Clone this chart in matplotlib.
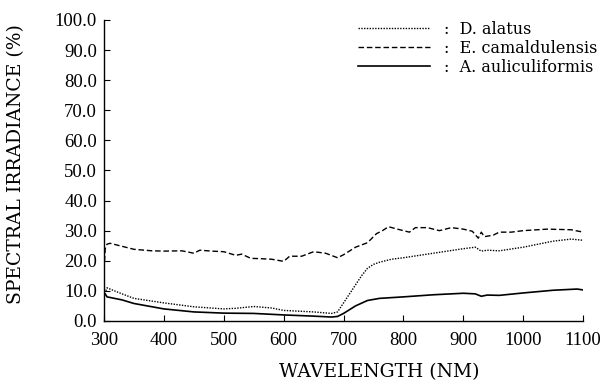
import matplotlib
matplotlib.use("Agg")
import matplotlib.pyplot as plt
from matplotlib.ticker import FormatStrFormatter

plt.rcParams['font.family'] = ['DejaVu Serif']

wl_e = [300, 302, 305, 310, 330, 350, 380, 400, 430, 450, 460, 480, 500, 520, 530, 545, 560, 580, 600, 610, 630,
        650, 670, 690, 700, 720, 740, 755, 765, 775, 790, 800, 810, 820, 840, 860, 880, 900, 915, 925, 930,
        935, 950, 960, 980, 1000, 1040, 1080, 1100]
e_cam = [17.0, 24.0, 25.5, 25.8, 24.8, 23.8, 23.3, 23.2, 23.3, 22.5, 23.5, 23.2, 23.0, 21.8, 22.2, 20.8, 20.7, 20.5, 19.8, 21.5, 21.5,
         23.0, 22.5, 21.0, 22.0, 24.5, 26.0, 29.0, 30.0, 31.3, 30.5, 30.0, 29.5, 31.0, 31.0, 30.0, 31.0, 30.5, 29.8, 27.5, 29.5,
         28.0, 28.5, 29.5, 29.5, 30.0, 30.5, 30.3, 29.5]

wl_d = [303, 305, 330, 350, 400, 450, 500, 520, 550, 580, 600, 650, 680, 690, 700, 710, 720, 730, 740, 750, 760, 780,
        800, 850, 900, 920, 930, 940, 960, 1000, 1050, 1080, 1100]
d_ala = [10.0, 11.0, 9.0, 7.5, 6.0, 4.7, 4.0, 4.2, 4.8, 4.3, 3.5, 3.0, 2.5, 3.0, 6.0, 9.0, 12.0, 15.0, 17.5, 18.8, 19.5, 20.5,
         21.0, 22.5, 24.0, 24.5, 23.2, 23.5, 23.3, 24.5, 26.5, 27.2, 26.8]

wl_a = [302, 305, 330, 350, 400, 450, 500, 550, 600, 650, 680, 690, 700, 720, 740, 760, 800, 850, 900, 920, 930,
        940, 960, 1000, 1050, 1090, 1100]
a_aul = [9.0, 8.0, 7.0, 5.8, 4.0, 3.0, 2.6, 2.5, 2.0, 1.6, 1.3, 1.5, 2.5, 5.0, 6.8, 7.5, 8.0, 8.7, 9.2, 9.0, 8.2,
         8.6, 8.5, 9.3, 10.2, 10.6, 10.3]

labels = [':  D. alatus', ':  E. camaldulensis', ':  A. auliculiformis']
xticks = [300, 400, 500, 600, 700, 800, 900, 1000, 1100]
yticks = [0, 10, 20, 30, 40, 50, 60, 70, 80, 90, 100]

fig = plt.figure(figsize=(6.03, 3.83), dpi=100)
ax = fig.add_axes([0.1725, 0.162, 0.7945, 0.786])

ax.plot(wl_d, d_ala, color='black', lw=1.0, linestyle=(0, (1, 1)), label=labels[0])
ax.plot(wl_e, e_cam, color='black', lw=1.0, linestyle=(0, (4, 2)), label=labels[1])
ax.plot(wl_a, a_aul, color='black', lw=1.2, linestyle='-', label=labels[2])

ax.set_xlim(300, 1100)
ax.set_ylim(0, 100)
ax.set_xticks(xticks)
ax.set_yticks(yticks)
ax.yaxis.set_major_formatter(FormatStrFormatter('%.1f'))
ax.tick_params(direction='in', length=4, width=0.8, labelsize=13.5)
ax.tick_params(axis='x', pad=8)
ax.tick_params(axis='y', pad=5)
for lab in ax.get_xticklabels() + ax.get_yticklabels():
    lab.set_fontfamily(['Liberation Serif', 'DejaVu Serif'])
for s in ['top', 'right']:
    ax.spines[s].set_visible(False)
for s in ['left', 'bottom']:
    ax.spines[s].set_linewidth(1.0)

ax.set_xlabel('WAVELENGTH (NM)', fontsize=13.5)
ax.xaxis.set_label_coords(0.575, -0.14)
ax.set_ylabel('SPECTRAL IRRADIANCE (%)', fontsize=13.5)
ax.yaxis.set_label_coords(-0.165, 0.52)

leg = ax.legend(loc='upper right', bbox_to_anchor=(1.06, 1.045), frameon=False, fontsize=11.5,
                handlelength=4.5, handletextpad=0.9, labelspacing=0.12)

fig.savefig('out.png', dpi=100)
